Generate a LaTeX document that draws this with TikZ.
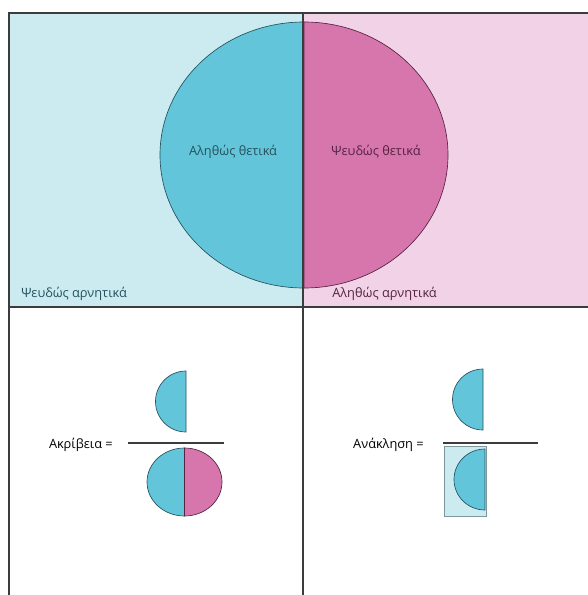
\documentclass[tikz,border=0pt]{standalone}
\usepackage{fontspec}
\setmainfont{Open Sans}
\usepackage{tikz}
\usetikzlibrary{positioning}

\definecolor{tealbg}{RGB}{204,235,241}
\definecolor{tealfg}{RGB}{99,197,218}
\definecolor{pinkbg}{RGB}{242,210,230}
\definecolor{pinkfg}{RGB}{215,117,173}
\definecolor{tealink}{RGB}{38,82,92}
\definecolor{pinkink}{RGB}{84,36,66}
\definecolor{frameink}{RGB}{60,60,60}

\begin{document}
\begin{tikzpicture}[
    x=0.75pt, y=-0.75pt,
    label/.style={font=\fontsize{9.6}{11}\selectfont, inner sep=0pt},
    half/.style={fill=tealfg, draw=tealink, line width=0.5pt},
    halfpink/.style={fill=pinkfg, draw=pinkink, line width=0.5pt},
    fracbar/.style={draw=frameink, line width=0.9pt},
    frame/.style={draw=frameink, line width=0.8pt}
]
    \useasboundingbox (0,0) rectangle (587,595);

    % top panel: the two classes
    \fill[tealbg] (9,13) rectangle (303,307);
    \fill[pinkbg] (303,13) rectangle (590,307);
    \draw[half] (304,22) arc[start angle=270, end angle=90, x radius=144, y radius=133] -- cycle;
    \draw[halfpink] (304,22) arc[start angle=-90, end angle=90, x radius=144, y radius=133] -- cycle;

    \node[label, text=tealink] (tp) at (233,152) {Αληθώς θετικά};
    \node[label, text=pinkink] (fp) at (376,152) {Ψευδώς θετικά};
    \node[label, text=tealink, anchor=west] (fn) at (21,294) {Ψευδώς αρνητικά};
    \node[label, text=pinkink, anchor=west] (tn) at (332,294) {Αληθώς αρνητικά};

    % frame
    \draw[frame] (590,13) -- (9,13) -- (9,595);
    \draw[frame, line width=1.3pt] (9,307) -- (590,307);
    \draw[frame] (303,13) -- (303,595);

    % precision
    \node[label, anchor=east] (prec) at (113,445) {Ακρίβεια =};
    \draw[fracbar] (128,443) -- (224,443);
    \draw[half] (186,371) arc[start angle=270, end angle=90, radius=30.5] -- cycle;
    \draw[half] (184.5,448) arc[start angle=270, end angle=90, x radius=37.5, y radius=34] -- cycle;
    \draw[halfpink] (184.5,448) arc[start angle=-90, end angle=90, x radius=37.5, y radius=34] -- cycle;

    % recall
    \node[label, anchor=east] (rec) at (424,445) {Ανάκληση =};
    \draw[fracbar] (443,443) -- (538,443);
    \draw[half] (483,369) arc[start angle=270, end angle=90, radius=30.5] -- cycle;
    \draw[fill=tealbg, draw=tealink!60, line width=0.6pt] (444,446) rectangle (486,516);
    \draw[half] (485,449) arc[start angle=270, end angle=90, x radius=31, y radius=30.5] -- cycle;
\end{tikzpicture}
\end{document}
